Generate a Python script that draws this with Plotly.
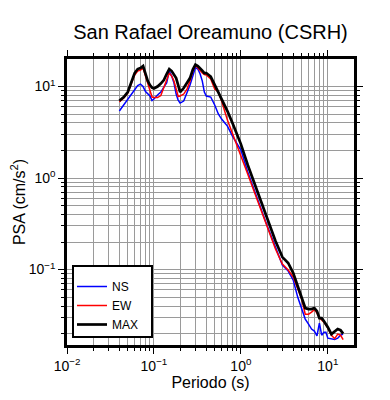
import math
import plotly.graph_objects as go

# ---- data ----
periods = [0.04, 0.045, 0.05, 0.055, 0.06, 0.065, 0.07, 0.075, 0.08, 0.085, 0.09, 0.095,
           0.10, 0.11, 0.12, 0.13, 0.14, 0.15, 0.16, 0.17, 0.18, 0.19, 0.20,
           0.22, 0.24, 0.26, 0.28, 0.30, 0.32, 0.34, 0.36, 0.38, 0.40,
           0.45, 0.50, 0.55, 0.60, 0.70, 0.80, 0.90, 1.0,
           1.2, 1.4, 1.6, 1.8, 2.0,
           2.5, 3.0, 3.5, 4.0, 4.5, 5.0, 5.5, 6.0, 6.5, 7.0, 7.5, 8.0, 8.5, 9.0, 9.5, 10,
           11, 12, 13, 14, 15]

psa_ns = [5.40, 6.28, 7.12, 8.07, 9.16, 10.25, 10.65, 10.0, 8.82, 8.28, 7.88, 7.03,
          7.30, 8.07, 8.71, 9.87, 10.92, 14.77, 13.02, 10.92, 8.28, 7.12, 6.60,
          6.94, 8.49, 10.38, 13.02, 16.13, 15.54, 13.70, 11.48, 8.71, 7.88,
          7.68, 6.28, 5.01, 4.41, 3.70, 2.88, 2.41, 2.02,
          1.163, 0.768, 0.540, 0.394, 0.303,
          0.176, 0.112, 0.0963, 0.0768, 0.0501, 0.0380, 0.0288, 0.0254, 0.0224, 0.0213,
          0.0189, 0.0260, 0.0192, 0.0207, 0.0207, 0.0178,
          0.0174, 0.0172, 0.0178, 0.0192, 0.0197]

psa_ew = [6.77, 7.49, 8.49, 10.65, 13.36, 14.77, 15.15, 15.93, 13.02, 10.65, 8.93, 7.68,
          7.58, 7.58, 7.97, 9.87, 12.08, 14.05, 13.02, 11.48, 9.39, 7.78, 7.88,
          8.28, 9.39, 11.48, 14.77, 16.96, 15.93, 14.77, 14.05, 13.53, 13.36,
          12.08, 9.39, 8.71, 6.94, 4.30, 3.03, 2.24, 1.78,
          1.10, 0.739, 0.520, 0.380, 0.291,
          0.168, 0.115, 0.0988, 0.083, 0.0628, 0.0476, 0.0326, 0.0326, 0.0343, 0.0365,
          0.0335, 0.0295, 0.0281, 0.0267, 0.0247, 0.0229,
          0.0192, 0.0176, 0.0197, 0.0192, 0.0172]

psa_max = [7.00, 7.68, 8.71, 11.2, 14.05, 15.54, 15.93, 16.75, 13.53, 11.48, 10.38, 9.75,
           9.51, 10.0, 10.78, 11.78, 13.70, 15.54, 14.77, 13.46, 12.38, 10.38, 8.71,
           9.63, 10.92, 12.38, 15.34, 17.40, 16.75, 15.93, 14.96, 14.05, 14.05,
           12.86, 10.46, 8.71, 7.39, 5.40, 3.99, 3.03, 2.35,
           1.39, 0.927, 0.652, 0.476, 0.365,
           0.205, 0.137, 0.118, 0.0916, 0.0660, 0.0513, 0.0380, 0.0370, 0.0370, 0.0380,
           0.0352, 0.0295, 0.0295, 0.0274, 0.0254, 0.0235,
           0.0197, 0.0210, 0.0224, 0.0218, 0.0200]

series_names = ["NS", "EW", "MAX"]
x_major = [0.01, 0.1, 1, 10]
x_major_text = ["10<sup>\u22122</sup>", "10<sup>\u22121</sup>", "10<sup>0</sup>", "10<sup>1</sup>"]
y_major = [0.1, 1, 10]
y_major_text = ["10<sup>\u22121</sup>", "10<sup>0</sup>", "10<sup>1</sup>"]
x_range = [0.01, 20]
y_range = [0.015, 20]

FONT = "Liberation Sans, Arial, Helvetica, sans-serif"

# page has an 8px body margin: figure drawn at offset (8, 8)
OFF = 8
W, H = 390 - 2 * OFF, 400 - 2 * OFF
PL, PR, PT, PB = 67 - OFF, 354 - OFF, 59 - OFF, 345 - OFF   # plot box in figure px
pw, ph = PR - PL, PB - PT


def minors(lo_exp, hi_exp, lo, hi):
    out = []
    for e in range(lo_exp, hi_exp + 1):
        for m in range(2, 10):
            v = m * 10 ** e
            if lo < v < hi:
                out.append(v)
    return out


fig = go.Figure()
fig.add_trace(go.Scatter(x=periods, y=psa_ns, mode="lines", name=series_names[0],
                         line=dict(color="#0000ff", width=1.5)))
fig.add_trace(go.Scatter(x=periods, y=psa_ew, mode="lines", name=series_names[1],
                         line=dict(color="#ff0000", width=1.5)))
fig.add_trace(go.Scatter(x=periods, y=psa_max, mode="lines", name=series_names[2],
                         line=dict(color="#000000", width=2.7)))

axis_common = dict(
    type="log", showline=True, linecolor="black", linewidth=2.5, mirror="allticks",
    ticks="outside", ticklen=6, tickwidth=1, tickcolor="black",
    showgrid=True, gridcolor="#9a9a9a", gridwidth=1, zeroline=False, automargin=False,
    tickfont=dict(family=FONT, size=14, color="black"),
)

fig.update_xaxes(
    **axis_common,
    range=[math.log10(x_range[0]), math.log10(x_range[1])],
    tickmode="array", tickvals=x_major, ticktext=x_major_text,
    minor=dict(tickmode="array", tickvals=minors(-2, 1, x_range[0], x_range[1]),
               ticks="outside", ticklen=3, tickcolor="black", showgrid=True,
               gridcolor="#9a9a9a", gridwidth=1),
    title=dict(text="Periodo (s)", font=dict(family=FONT, size=16, color="black"), standoff=4),
)
fig.update_yaxes(
    **axis_common,
    range=[math.log10(y_range[0]), math.log10(y_range[1])],
    tickmode="array", tickvals=y_major, ticktext=y_major_text,
    minor=dict(tickmode="array", tickvals=minors(-2, 1, y_range[0], y_range[1]),
               ticks="outside", ticklen=3, tickcolor="black", showgrid=True,
               gridcolor="#9a9a9a", gridwidth=1),
    title=dict(text="PSA (cm/s<sup>2</sup>)", font=dict(family=FONT, size=16, color="black"), standoff=6),
)

# legend frame (screen px of reference converted to paper coords)
fig.add_shape(type="rect", xref="paper", yref="paper",
              x0=(73 - OFF - PL) / pw, x1=(152 - OFF - PL) / pw,
              y0=(PB - (337 - OFF)) / ph, y1=(PB - (266 - OFF)) / ph,
              line=dict(color="black", width=2), fillcolor="white", layer="above")

fig.update_layout(
    width=W, height=H,
    margin=dict(l=PL, r=W - PR, t=PT, b=H - PB),
    paper_bgcolor="white", plot_bgcolor="white",
    title=dict(text="San Rafael Oreamuno (CSRH)", x=(210.5 - OFF) / W, xanchor="center",
               y=1 - (32 - OFF) / H, yanchor="middle",
               font=dict(family=FONT, size=20, color="black")),
    showlegend=True,
    legend=dict(x=(72 - OFF - PL) / pw, xanchor="left",
                y=(PB - (272 - OFF)) / ph, yanchor="top",
                bgcolor="rgba(0,0,0,0)", borderwidth=0,
                font=dict(family=FONT, size=12, color="black"), tracegroupgap=0),
)

fig.write_html("out.html")
